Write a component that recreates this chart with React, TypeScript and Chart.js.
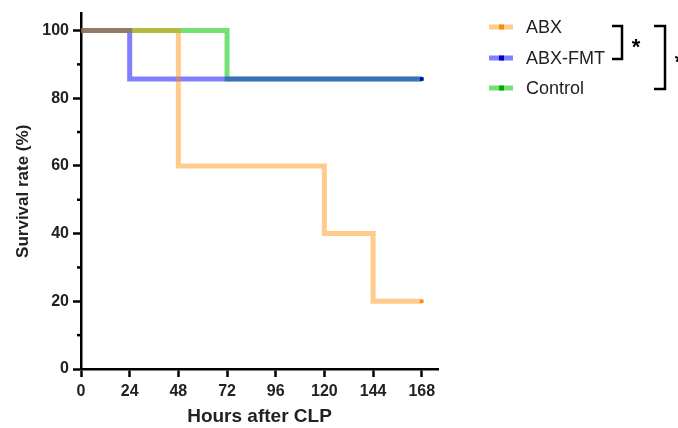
import React, { useEffect, useRef } from "react";
import { Chart, registerables } from "chart.js";

Chart.register(...registerables);

const seriesNames = ["ABX", "ABX-FMT", "Control"];
const abxHours = [0, 48, 120, 144, 168];
const abxSurvival = [100, 60, 40, 20, 20];
const fmtHours = [0, 24, 168];
const fmtSurvival = [100, 85.7, 85.7];
const ctrlHours = [0, 72, 168];
const ctrlSurvival = [100, 85.7, 85.7];
const xTicks = [0, 24, 48, 72, 96, 120, 144, 168];
const yTicks = [0, 20, 40, 60, 80, 100];
const yMinorTicks = [10, 30, 50, 70, 90];

const lineColors = ["rgba(255,140,0,0.45)", "rgba(0,0,255,0.5)", "rgba(0,200,0,0.55)"];
const markColors = ["#ff8800", "#0000cc", "#00aa00"];
const FONT = "'Liberation Sans', Arial, sans-serif";

function pts(xs: number[], ys: number[]) {
  return xs.map((x, i) => ({ x, y: ys[i] }));
}

export default function App() {
  const ref = useRef<HTMLCanvasElement | null>(null);
  useEffect(() => {
    if (!ref.current) return;
    const sets = [
      pts(abxHours, abxSurvival),
      pts(fmtHours, fmtSurvival),
      pts(ctrlHours, ctrlSurvival),
    ];
    const extras = {
      id: "extras",
      afterDraw(chart: any) {
        const ctx = chart.ctx;
        const ys = chart.scales.y;
        const area = chart.chartArea;
        ctx.save();
        ctx.strokeStyle = "#000";
        ctx.lineWidth = 2.5;
        yMinorTicks.forEach((v) => {
          const py = ys.getPixelForValue(v);
          ctx.beginPath();
          ctx.moveTo(area.left - 4, py);
          ctx.lineTo(area.left, py);
          ctx.stroke();
        });
        const legY = [27, 58, 88];
        seriesNames.forEach((name, i) => {
          const y = legY[i];
          ctx.strokeStyle = lineColors[i];
          ctx.lineWidth = 5;
          ctx.beginPath();
          ctx.moveTo(489, y);
          ctx.lineTo(513, y);
          ctx.stroke();
          ctx.fillStyle = markColors[i];
          ctx.fillRect(499, y - 2.5, 5, 5);
          ctx.fillStyle = "#222";
          ctx.font = `18px ${FONT}`;
          ctx.textBaseline = "middle";
          ctx.textAlign = "left";
          ctx.fillText(name, 526, y + 1);
        });
        ctx.strokeStyle = "#000";
        ctx.lineWidth = 2.5;
        ctx.beginPath();
        ctx.moveTo(612, 26);
        ctx.lineTo(622, 26);
        ctx.lineTo(622, 59);
        ctx.lineTo(612, 59);
        ctx.stroke();
        ctx.beginPath();
        ctx.moveTo(654, 26);
        ctx.lineTo(665, 26);
        ctx.lineTo(665, 89);
        ctx.lineTo(654, 89);
        ctx.stroke();
        ctx.fillStyle = "#000";
        ctx.font = `bold 22px ${FONT}`;
        ctx.textAlign = "center";
        ctx.textBaseline = "middle";
        ctx.fillText("*", 636, 48);
        ctx.fillText("*", 679, 63);
        ctx.restore();
      },
    };
    const chart = new Chart(ref.current, {
      type: "line",
      data: {
        datasets: sets.map((d, i) => ({
          label: seriesNames[i],
          data: d,
          stepped: "before" as any,
          borderColor: lineColors[i],
          borderWidth: 5,
          fill: false,
          pointStyle: "rect",
          pointRadius: d.map((_, j) => (j === d.length - 1 ? 2.5 : 0)),
          pointBackgroundColor: markColors[i],
          pointBorderWidth: 0,
          borderCapStyle: "butt" as any,
          borderJoinStyle: "miter" as any,
        })),
      },
      options: {
        animation: false,
        responsive: false,
        layout: { padding: { left: 13, top: 12, right: 240, bottom: 0 } },
        plugins: { legend: { display: false }, tooltip: { enabled: false } },
        scales: {
          x: {
            type: "linear",
            min: 0,
            max: 176,
            afterBuildTicks: (s: any) => {
              s.ticks = xTicks.map((v) => ({ value: v }));
            },
            afterFit: (s: any) => {
              s.height = 59;
            },
            border: { display: true, color: "#000", width: 2.5 },
            grid: {
              display: true,
              drawOnChartArea: false,
              drawTicks: true,
              tickLength: 8,
              tickWidth: 2.5,
              tickColor: "#000",
            },
            ticks: {
              color: "#222",
              padding: 5,
              maxRotation: 0,
              autoSkip: false,
              font: { family: FONT, size: 16, weight: "bold" },
            },
            title: {
              display: true,
              text: "Hours after CLP",
              color: "#222",
              padding: { top: 3, bottom: 0 },
              font: { family: FONT, size: 19, weight: "bold" },
            },
          },
          y: {
            type: "linear",
            min: 0,
            max: 105,
            afterBuildTicks: (s: any) => {
              s.ticks = yTicks.map((v) => ({ value: v }));
            },
            afterFit: (s: any) => {
              s.width = 68;
            },
            border: { display: true, color: "#000", width: 2.5 },
            grid: {
              display: true,
              drawOnChartArea: false,
              drawTicks: true,
              tickLength: 8,
              tickWidth: 2.5,
              tickColor: "#000",
            },
            ticks: {
              color: "#222",
              padding: 4,
              font: { family: FONT, size: 16, weight: "bold" },
            },
            title: {
              display: true,
              text: "Survival rate (%)",
              color: "#222",
              padding: { top: 0, bottom: 6 },
              font: { family: FONT, size: 17, weight: "bold" },
            },
          },
        },
      },
      plugins: [extras],
    } as any);
    return () => chart.destroy();
  }, []);
  return (
    <div style={{ position: "fixed", left: 0, top: 0, width: 678, height: 428, background: "#fff" }}>
      <canvas ref={ref} width={678} height={428} style={{ width: 678, height: 428 }} />
    </div>
  );
}
